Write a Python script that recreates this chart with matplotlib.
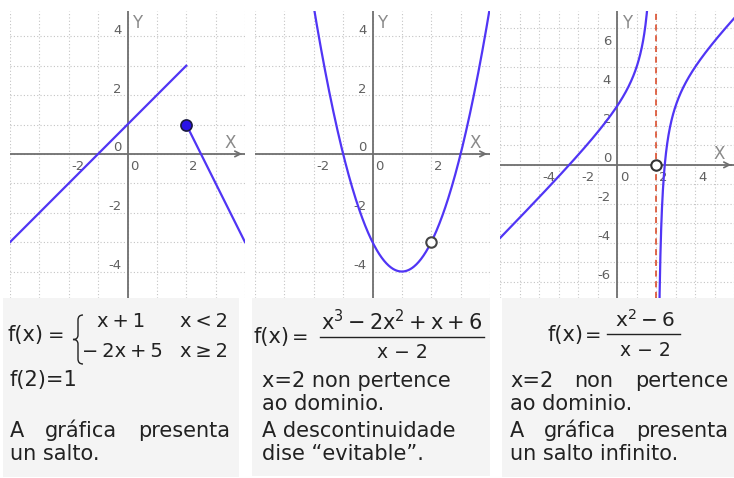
import numpy as np
import matplotlib
matplotlib.use("Agg")
import matplotlib.pyplot as plt
from matplotlib.transforms import offset_copy
from matplotlib.lines import Line2D
from matplotlib.patches import Rectangle, PathPatch
from matplotlib.path import Path

plt.rcParams['font.family'] = ['DejaVu Sans']
plt.rcParams['mathtext.fontset'] = 'dejavusans'

# --- data ---
# panel 1: piecewise lines
seg1_x = [-4, 2]
seg1_y = [-3, 3]
seg2_x = [2, 4]
seg2_y = [1, -3]
dot_pt = (2, 1)
# panel 2: parabola with a hole
parab_coef = [1, -2, -3]
hole2_pt = (2, -3)
# panel 3: rational function, asymptote x=2
num_coef = [1, 0, -6]
den_coef = [1, -2]
asym_x = 2
hole3_pt = (2, 0)

xt1 = [-2, 0, 2]; yt1 = [4, 2, 0, -2, -4]
xt3 = [-4, -2, 0, 2, 4]; yt3 = [6, 4, 2, 0, -2, -4, -6]

W, H = 734, 478
BLUE = '#5035f5'
GRID = '#c4c4c4'
AXC = '#6e6e6e'
TXT = '#222222'
TS = '\u2009'  # thin space

fig = plt.figure(figsize=(W / 100, H / 100), dpi=100)


def px(x, y):
    return x / W, 1 - y / H


def make_ax(left, right, top, bottom, xlim, ylim, xticks, yticks):
    ax = fig.add_axes([left / W, 1 - bottom / H, (right - left) / W, (bottom - top) / H])
    ax.set_xlim(*xlim); ax.set_ylim(*ylim)
    for s in ax.spines.values():
        s.set_visible(False)
    ax.set_xticks([]); ax.set_yticks([])
    for v in range(int(np.ceil(xlim[0])), int(np.floor(xlim[1])) + 1):
        ax.axvline(v, color=GRID, lw=0.8, ls=(0, (1, 2)), zorder=0)
    for v in range(int(np.ceil(ylim[0])), int(np.floor(ylim[1])) + 1):
        ax.axhline(v, color=GRID, lw=0.8, ls=(0, (1, 2)), zorder=0)
    ax.axhline(0, color=AXC, lw=1.3, zorder=1)
    ax.axvline(0, color=AXC, lw=1.3, zorder=1)
    ax.annotate('', xy=(xlim[1], 0), xytext=(xlim[1] - 0.3, 0),
                arrowprops=dict(arrowstyle='->', color=AXC, lw=1.2), annotation_clip=False)
    tx = offset_copy(ax.transData, fig, x=3, y=-13, units='dots')
    for v in xticks:
        ax.text(v, 0, str(v), transform=tx, ha='left', va='center', fontsize=9.5, color='#606060')
    ty = offset_copy(ax.transData, fig, x=-6, y=6, units='dots')
    for v in yticks:
        ax.text(0, v, str(v), transform=ty, ha='right', va='center', fontsize=9.5, color='#606060')
    ax.annotate('X', xy=(1, 0), xycoords=('axes fraction', 'data'), xytext=(-15, 11),
                textcoords='offset pixels', ha='center', va='center', fontsize=12, color='#8a8a8a')
    ax.annotate('Y', xy=(0, 1), xycoords=('data', 'axes fraction'), xytext=(10, -12),
                textcoords='offset pixels', ha='center', va='center', fontsize=12, color='#8a8a8a')
    return ax


# panel 1
ax1 = make_ax(10, 245, 11, 298, (-4, 4), (-4.9, 4.86), xt1, yt1)
ax1.plot(seg1_x, seg1_y, color=BLUE, lw=1.6, zorder=3)
ax1.plot(seg2_x, seg2_y, color=BLUE, lw=1.6, zorder=3)
ax1.plot(*dot_pt, 'o', ms=8, mfc='#2a12e8', mec='#1a1a40', mew=1.2, zorder=4)

# panel 2
ax2 = make_ax(255, 490, 11, 298, (-4, 4), (-4.9, 4.86), xt1, yt1)
xx = np.linspace(-4, 4, 400)
ax2.plot(xx, np.polyval(parab_coef, xx), color=BLUE, lw=1.6, zorder=3)
ax2.plot(*hole2_pt, 'o', ms=7.5, mfc='white', mec='#444444', mew=1.5, zorder=4)

# panel 3
ax3 = make_ax(500, 734, 11, 298, (-6, 6), (-6.82, 7.88), xt3, yt3)
ax3.axvline(asym_x, color='#d8401c', lw=1.1, ls=(0, (4, 3)), zorder=2)
for xs in (np.linspace(-6, 1.99, 500), np.linspace(2.01, 6, 500)):
    ax3.plot(xs, np.polyval(num_coef, xs) / np.polyval(den_coef, xs), color=BLUE, lw=1.6, zorder=3)
ax3.plot(*hole3_pt, 'o', ms=7.5, mfc='white', mec='#333333', mew=1.5, zorder=4)

# text boxes
for x0, x1, y0, y1 in [(3, 239, 298, 477), (252, 490, 298, 476), (502, 734, 298, 477)]:
    fig.add_artist(Rectangle(px(x0, y1), (x1 - x0) / W, (y1 - y0) / H,
                             transform=fig.transFigure, facecolor='#f4f4f4', edgecolor='none', zorder=0))

FS = 15


def ftext(x, y, s, ha='left', fs=FS):
    return fig.text(*px(x, y), s, ha=ha, va='baseline', fontsize=fs, color=TXT)


def justify(words, x0, x1, y):
    ts = [ftext(0, y, w) for w in words]
    r = fig.canvas.get_renderer()
    ws = [t.get_window_extent(r).width for t in ts]
    gap = (x1 - x0 - sum(ws)) / (len(words) - 1)
    pos = x0
    for t, w in zip(ts, ws):
        t.set_position(px(pos, y))
        pos += w + gap


def hline(x0, x1, y):
    fig.add_artist(Line2D([x0 / W, x1 / W], [1 - y / H] * 2, color=TXT, lw=1.0,
                          transform=fig.transFigure))


def fx(x_left, x_eq, y):
    ftext(x_left, y, 'f(x)')
    ftext(x_eq, y, '=', ha='center', fs=14)


# box 1
fx(8, 56, 341)
verts = [(83, 315), (78, 315), (78, 320), (78, 335), (78, 339.5), (73, 339.5),
         (78, 339.5), (78, 344), (78, 359), (78, 364), (83, 364)]
codes = [Path.MOVETO, Path.CURVE3, Path.CURVE3, Path.LINETO, Path.CURVE3, Path.CURVE3,
         Path.CURVE3, Path.CURVE3, Path.LINETO, Path.CURVE3, Path.CURVE3]
fig.add_artist(PathPatch(Path([px(*v) for v in verts], codes), transform=fig.transFigure,
                         facecolor='none', edgecolor=TXT, lw=1.0))
ftext(121, 327, TS.join(['x', '+', '1']), ha='center', fs=14)
ftext(122, 357, TS.join(['−', '2x', '+', '5']), ha='center', fs=14)
ftext(180, 327, TS.join(['x', '<', '2']), fs=14)
ftext(180, 357, TS.join(['x', '≥', '2']), fs=14)
ftext(10, 386, 'f(2)=1')
justify(['A', 'gráfica', 'presenta'], 10, 230, 437)
ftext(10, 460, 'un salto.')

# box 2
fx(253, 300, 343)
hline(320, 484, 337)
ftext(402, 330, r'$\mathrm{x^3 - 2x^2 + x + 6}$', ha='center')
ftext(402, 358, 'x − 2', ha='center', fs=13.5)
ftext(262, 387, 'x=2 non pertence')
ftext(262, 410, 'ao dominio.')
ftext(262, 437, 'A descontinuidade')
ftext(262, 460, 'dise “evitable”.')

# box 3
fx(547, 593, 341)
hline(607, 680, 334)
ftext(645, 327, r'$\mathrm{x^2 - 6}$', ha='center', fs=14.5)
ftext(645, 356, 'x − 2', ha='center', fs=13.5)
justify(['x=2', 'non', 'pertence'], 510, 728, 387)
ftext(510, 410, 'ao dominio.')
justify(['A', 'gráfica', 'presenta'], 510, 728, 437)
ftext(510, 460, 'un salto infinito.')

fig.savefig('out.png', dpi=100)
